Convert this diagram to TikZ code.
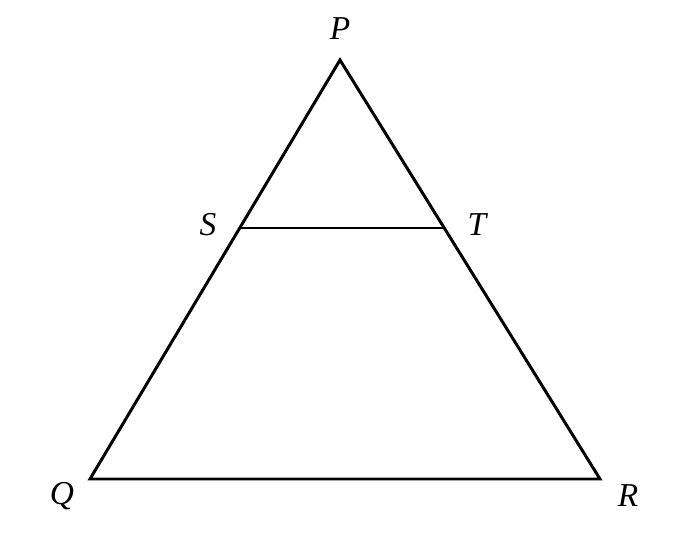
\documentclass[tikz,border=0pt]{standalone}
\usepackage{fontspec}
\setmainfont{Liberation Serif}
\begin{document}
\begin{tikzpicture}[x=0.02cm,y=-0.02cm,
  edge/.style={line width=1.7pt,line join=miter},
  lbl/.style={font=\fontsize{19}{22}\selectfont\itshape,inner sep=0pt}]
\useasboundingbox (0,0) rectangle (680,540);
\coordinate (P) at (340,60);
\coordinate (Q) at (90,479);
\coordinate (R) at (600,479);
\coordinate (S) at (240,228);
\coordinate (T) at (443,228);
\draw[edge] (P) -- (Q) -- (R) -- cycle;
\draw[edge] (S) -- (T);
\node[lbl] (lP) at (340,29) {P};
\node[lbl] (lS) at (208,225) {S};
\node[lbl] (lT) at (477,225) {T};
\node[lbl] (lQ) at (62,496) {Q};
\node[lbl] (lR) at (628,496) {R};
\end{tikzpicture}
\end{document}
